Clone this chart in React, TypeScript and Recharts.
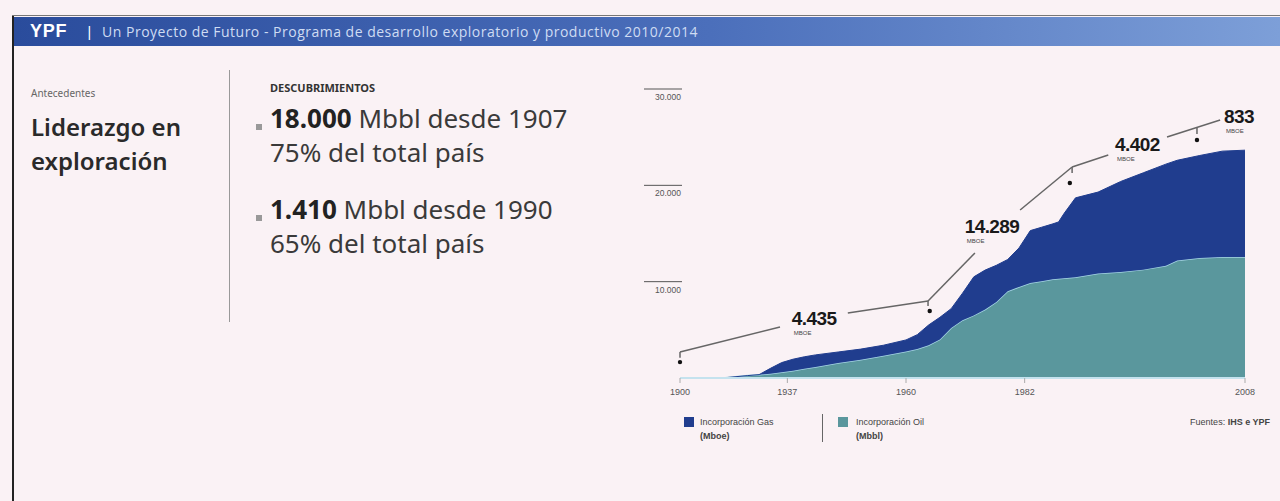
import React from "react";
import {
  AreaChart,
  Area,
  XAxis,
  YAxis,
  ReferenceLine,
  ReferenceDot,
} from "recharts";

// posición en el eje (0-100) y volúmenes acumulados
const tPos = [0, 8, 12, 14, 16, 18, 20, 22, 24, 28, 32, 36, 40, 42, 44, 46, 48, 50, 52, 54, 56, 58, 60, 62, 64, 66, 67, 68, 70, 74, 78, 82, 86, 88, 92, 96, 100];
const oil = [0, 30, 250, 350, 450, 600, 750, 950, 1150, 1550, 1900, 2300, 2750, 3000, 3400, 4000, 5200, 6000, 6500, 7100, 7900, 9000, 9450, 9850, 10050, 10250, 10300, 10350, 10450, 10850, 11000, 11250, 11650, 12200, 12450, 12550, 12550];
const gas = [0, 0, 0, 0, 550, 1000, 1200, 1250, 1250, 1150, 1100, 1100, 1200, 1500, 2100, 2300, 2000, 2800, 4000, 4100, 3800, 3300, 4050, 5450, 5600, 5750, 5900, 6750, 8250, 8450, 9400, 10050, 10550, 10400, 10650, 11000, 11100];

const xTicks = [0, 19, 40, 61, 100];
const xTickLabels = ["1900", "1937", "1960", "1982", "2008"];
const yTicks = [10000, 20000, 30000];

// llamadas (línea de anotación)
const calloutSegments = [
  [{ x: 0, y: 2700 }, { x: 17.7, y: 5290 }],
  [{ x: 29.7, y: 6750 }, { x: 43.9, y: 8000 }],
  [{ x: 43.9, y: 8000 }, { x: 52.2, y: 12980 }],
  [{ x: 60.2, y: 17440 }, { x: 69.4, y: 21900 }],
  [{ x: 69.4, y: 21900 }, { x: 75.8, y: 23150 }],
  [{ x: 86.2, y: 25020 }, { x: 95.6, y: 26780 }],
  [{ x: 0, y: 2700 }, { x: 0, y: 2100 }],
  [{ x: 43.9, y: 8000 }, { x: 43.9, y: 7470 }],
  [{ x: 69.4, y: 21900 }, { x: 69.4, y: 21280 }],
  [{ x: 91.5, y: 25950 }, { x: 91.5, y: 25330 }],
];
const calloutDots = [
  { x: 0, y: 1650 },
  { x: 44.2, y: 6960 },
  { x: 69.0, y: 20240 },
  { x: 91.5, y: 24700 },
];
const calloutLabels = [
  { x: 19.8, y: 5500, text: "4.435" },
  { x: 50.4, y: 15050, text: "14.289" },
  { x: 77.0, y: 23560, text: "4.402" },
  { x: 96.3, y: 26470, text: "833" },
];

const GAS = "#203d8e";
const OIL = "#5a979d";
const BG = "#faf2f5";
const NARROW = "'Liberation Sans', Arial, sans-serif";
const SANS = "'Noto Sans', 'Open Sans', sans-serif";

const data = tPos.map((t, i) => ({ t, oil: oil[i], gas: gas[i] }));

function fmt(n: number) {
  return String(n).replace(/\B(?=(\d{3})+(?!\d))/g, ".");
}

function YTick(p: any) {
  return (
    <g>
      <line x1={p.x - 36} x2={p.x + 2} y1={p.y} y2={p.y} stroke="#555" strokeWidth={1} />
      <text x={p.x + 1} y={p.y + 11} textAnchor="end" fontSize={8.5} fill="#555" fontFamily={NARROW}>
        {fmt(p.payload.value)}
      </text>
    </g>
  );
}

function XTick(p: any) {
  const i = xTicks.indexOf(p.payload.value);
  return (
    <text x={p.x} y={p.y + 10} textAnchor="middle" fontSize={9} fill="#555" fontFamily={NARROW}>
      {xTickLabels[i]}
    </text>
  );
}

function makeLabel(text: string) {
  return (props: any) => {
    const vb = props.viewBox;
    return (
      <g>
        <text x={vb.x} y={vb.y} fontSize={19} fontWeight="bold" fill="#1a1a1a" fontFamily={NARROW} letterSpacing={-0.6}>
          {text}
        </text>
        <text x={vb.x + 2} y={vb.y + 10} fontSize={6} fill="#444" fontFamily={NARROW}>
          MBOE
        </text>
      </g>
    );
  };
}

export default function App() {
  return (
    <div
      style={{
        position: "absolute",
        left: 0,
        top: 0,
        width: 1280,
        height: 501,
        background: BG,
        overflow: "hidden",
        fontFamily: SANS,
      }}
    >
      {/* marco */}
      <div style={{ position: "absolute", left: 12, top: 15, width: 2, height: 486, background: "#222" }} />
      <div style={{ position: "absolute", left: 12, top: 15, width: 1268, height: 1, background: "#777" }} />
      {/* cabecera */}
      <div
        style={{
          position: "absolute",
          left: 14,
          top: 17,
          width: 1266,
          height: 29,
          background: "linear-gradient(90deg, #2a4c9c 0%, #4b6fbb 55%, #7d9fd8 100%)",
          display: "flex",
          alignItems: "center",
          whiteSpace: "nowrap",
        }}
      >
        <span style={{ marginLeft: 16, color: "#fff", fontWeight: "bold", fontSize: 18, fontFamily: "'Liberation Sans', Arial", letterSpacing: 0.8 }}>
          YPF
        </span>
        <span style={{ marginLeft: 20, color: "#fff", fontSize: 14, fontFamily: "'Liberation Sans', Arial" }}>|</span>
        <span style={{ marginLeft: 11, color: "#cfdcf3", fontSize: 14, fontFamily: "'Open Sans', sans-serif", letterSpacing: 0.5 }}>
          Un Proyecto de Futuro - Programa de desarrollo exploratorio y productivo 2010/2014
        </span>
      </div>

      {/* texto izquierdo */}
      <div style={{ position: "absolute", left: 31, top: 86, fontSize: 10, color: "#666" }}>Antecedentes</div>
      <div style={{ position: "absolute", left: 31, top: 110, fontSize: 24, fontWeight: 600, color: "#2a2a2a", lineHeight: "34px" }}>
        Liderazgo en
        <br />
        exploración
      </div>
      <div style={{ position: "absolute", left: 229, top: 70, width: 1, height: 252, background: "#999" }} />

      <div style={{ position: "absolute", left: 270, top: 80, fontSize: 11, fontWeight: "bold", color: "#333" }}>DESCUBRIMIENTOS</div>
      <div style={{ position: "absolute", left: 256, top: 124, width: 6, height: 6, background: "#999" }} />
      <div style={{ position: "absolute", left: 270, top: 101, fontSize: 26, color: "#3a3a3a", lineHeight: "34px", whiteSpace: "nowrap" }}>
        <b style={{ color: "#222" }}>18.000</b> Mbbl desde 1907
        <br />
        75% del total país
      </div>
      <div style={{ position: "absolute", left: 256, top: 215, width: 6, height: 6, background: "#999" }} />
      <div style={{ position: "absolute", left: 270, top: 192, fontSize: 26, color: "#3a3a3a", lineHeight: "34px", whiteSpace: "nowrap" }}>
        <b style={{ color: "#222" }}>1.410</b> Mbbl desde 1990
        <br />
        65% del total país
      </div>

      {/* gráfico */}
      <div style={{ position: "absolute", left: 640, top: 80 }}>
        <AreaChart width={640} height={330} data={data} margin={{ top: 9, right: 35, bottom: 0, left: 0 }}>
          <XAxis
            dataKey="t"
            type="number"
            domain={[0, 100]}
            ticks={xTicks}
            tick={<XTick />}
            tickSize={5}
            tickLine={{ stroke: "#aaa" }}
            axisLine={{ stroke: "#c4e2ee", strokeWidth: 2 }}
            height={32}
            interval={0}
          />
          <YAxis
            domain={[0, 30000]}
            ticks={yTicks}
            tick={<YTick />}
            tickSize={0}
            tickMargin={0}
            tickLine={false}
            axisLine={false}
            width={40}
            interval={0}
          />
          <Area
            type="linear"
            dataKey="oil"
            stackId="1"
            fill={OIL}
            fillOpacity={1}
            stroke="#a6d6e6"
            strokeWidth={1.5}
            isAnimationActive={false}
          />
          <Area
            type="linear"
            dataKey="gas"
            stackId="1"
            fill={GAS}
            fillOpacity={1}
            stroke={GAS}
            strokeWidth={1}
            isAnimationActive={false}
          />
          {calloutSegments.map((s, i) => (
            <ReferenceLine key={"s" + i} segment={s} stroke="#666" strokeWidth={1.5} ifOverflow="visible" />
          ))}
          {calloutDots.map((d, i) => (
            <ReferenceDot key={"d" + i} x={d.x} y={d.y} r={2.2} fill="#111" stroke="none" ifOverflow="visible" />
          ))}
          {calloutLabels.map((l, i) => (
            <ReferenceDot key={"l" + i} x={l.x} y={l.y} r={0} fill="none" stroke="none" ifOverflow="visible" label={makeLabel(l.text)} />
          ))}
        </AreaChart>
      </div>

      {/* leyenda */}
      <div style={{ position: "absolute", left: 684, top: 417, width: 10, height: 10, background: GAS }} />
      <div style={{ position: "absolute", left: 700, top: 415, fontSize: 9, color: "#444", lineHeight: "14px", fontFamily: NARROW }}>
        Incorporación Gas
        <br />
        <b>(Mboe)</b>
      </div>
      <div style={{ position: "absolute", left: 822, top: 414, width: 1, height: 28, background: "#666" }} />
      <div style={{ position: "absolute", left: 838, top: 417, width: 10, height: 10, background: OIL }} />
      <div style={{ position: "absolute", left: 856, top: 415, fontSize: 9, color: "#444", lineHeight: "14px", fontFamily: NARROW }}>
        Incorporación Oil
        <br />
        <b>(Mbbl)</b>
      </div>
      <div style={{ position: "absolute", right: 10, top: 415, fontSize: 9, color: "#444", lineHeight: "14px", fontFamily: NARROW }}>
        Fuentes: <b>IHS e YPF</b>
      </div>
    </div>
  );
}
